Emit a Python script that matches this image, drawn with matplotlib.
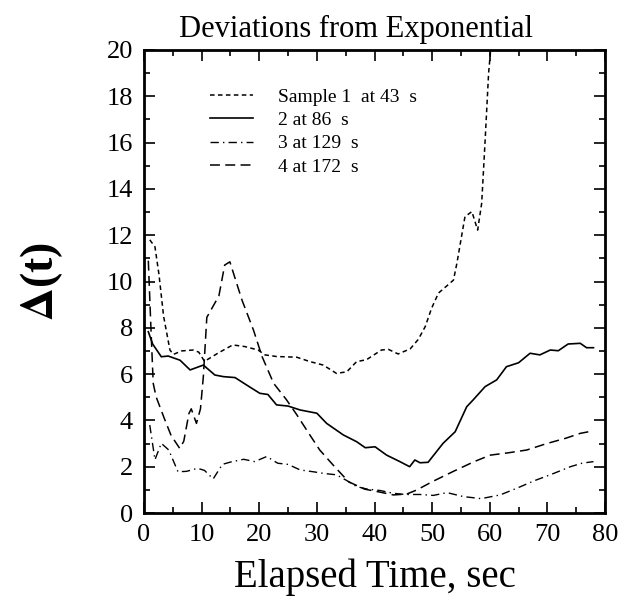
import matplotlib
matplotlib.use('Agg')
import matplotlib.pyplot as plt
from matplotlib.ticker import MultipleLocator

plt.rcParams['font.family'] = ['Liberation Serif', 'DejaVu Serif']
plt.rcParams['mathtext.fontset'] = 'stix'

# Sample 1 at 43 s
x1 = [1.0, 1.9, 2.6, 3.4, 4.5, 5.1, 6.5, 8.5, 9.5, 10.5, 12.8, 15.4, 17.5, 19.8, 21.0,
      23.0, 26.5, 28.8, 31.1, 33.4, 35.2, 36.9, 38.6, 41.2, 42.4, 44.1, 46.2, 47.6, 48.8,
      49.9, 51.1, 52.5, 53.7, 54.3, 55.1, 55.7, 56.9, 57.9, 58.6, 59.2, 59.8, 60.3]
y1 = [11.8, 11.5, 10.3, 8.5, 7.04, 6.85, 7.0, 7.04, 6.95, 6.55, 6.9, 7.26, 7.19, 7.04, 6.83,
      6.76, 6.73, 6.54, 6.39, 6.03, 6.1, 6.54, 6.62, 7.04, 7.07, 6.87, 7.09, 7.5, 8.05,
      8.84, 9.5, 9.8, 10.06, 10.79, 11.94, 12.8, 13.02, 12.22, 13.38, 16.1, 19.0, 20.4]

# 2 at 86 s
x2 = [0.75, 1.5, 3.0, 4.2, 6.25, 8.0, 10.3, 12.3, 13.8, 15.8, 17.8, 20.1, 21.5, 23.0, 25.0,
      27.1, 30.0, 31.7, 34.6, 36.9, 38.4, 40.1, 42.1, 44.4, 46.1, 47.0, 47.9, 49.3, 51.9,
      54.0, 56.0, 57.1, 59.2, 61.2, 62.9, 65.0, 67.0, 68.7, 70.5, 71.9, 73.6, 75.7, 76.8, 78.0]
y2 = [7.83, 7.3, 6.75, 6.78, 6.6, 6.18, 6.39, 5.96, 5.89, 5.85, 5.53, 5.17, 5.12, 4.67, 4.62,
      4.45, 4.31, 3.87, 3.37, 3.08, 2.82, 2.86, 2.5, 2.22, 2.0, 2.29, 2.17, 2.19, 3.01,
      3.51, 4.59, 4.88, 5.46, 5.75, 6.32, 6.49, 6.9, 6.83, 7.04, 7.01, 7.3, 7.33, 7.14, 7.14]

# 3 at 129 s
x3 = [1.0, 1.9, 3.0, 4.3, 5.9, 7.4, 9.3, 10.5, 12.0, 13.6, 15.0, 17.3, 19.2, 21.3, 23.2,
      25.0, 27.1, 29.4, 31.5, 33.4, 35.2, 36.9, 38.6, 41.0, 43.3, 45.3, 47.9, 50.2, 52.6,
      55.4, 58.5, 61.8, 64.7, 67.8, 70.8, 74.0, 76.0, 78.0]
y3 = [3.8, 2.3, 3.01, 2.72, 1.78, 1.8, 1.93, 1.84, 1.47, 2.1, 2.2, 2.32, 2.22, 2.44, 2.15,
      2.1, 1.86, 1.78, 1.7, 1.65, 1.4, 1.14, 1.04, 0.97, 0.85, 0.8, 0.8, 0.76, 0.88,
      0.71, 0.62, 0.78, 1.07, 1.4, 1.68, 2.0, 2.15, 2.22]

# 4 at 172 s
x4 = [0.75, 1.2, 1.6, 2.1, 3.5, 4.7, 6.2, 6.9, 7.8, 8.2, 9.1, 9.8, 10.3, 10.9, 13.0, 14.0,
      14.9, 17.0, 19.0, 20.5, 22.5, 24.7, 26.5, 28.6, 30.5, 32.9, 35.5, 38.3, 40.6, 43.3,
      45.6, 47.3, 50.0, 53.7, 57.3, 60.1, 63.2, 66.4, 69.9, 73.2, 75.7, 78.0]
y4 = [10.9, 8.0, 5.6, 5.02, 4.1, 3.35, 2.79, 3.1, 4.3, 4.5, 3.87, 4.5, 5.9, 8.45, 9.38, 10.71,
      10.85, 9.2, 7.9, 6.75, 5.6, 4.9, 4.25, 3.44, 2.72, 2.05, 1.35, 1.03, 0.92, 0.78,
      0.82, 0.99, 1.35, 1.8, 2.22, 2.5, 2.6, 2.72, 3.0, 3.23, 3.44, 3.55]

labels = ['Sample 1  at 43  s', '2 at 86  s', '3 at 129  s', '4 at 172  s']

fig = plt.figure(figsize=(6.29, 6.05), dpi=100)
ax = fig.add_axes([144/629, 1-513/605, 461/629, 463/605])

ax.plot(x1, y1, color='black', lw=1.1, linestyle=(0, (3, 2.2)), label=labels[0])
ax.plot(x2, y2, color='black', lw=1.2, linestyle='-', label=labels[1])
ax.plot(x3, y3, color='black', lw=1.0, linestyle=(0, (6, 3, 1, 3)), label=labels[2])
ax.plot(x4, y4, color='black', lw=1.1, linestyle=(0, (6.5, 3.5)), label=labels[3])

ax.set_xlim(0, 80)
ax.set_ylim(0, 20)
ax.xaxis.set_major_locator(MultipleLocator(10))
ax.xaxis.set_minor_locator(MultipleLocator(5))
ax.yaxis.set_major_locator(MultipleLocator(2))
ax.yaxis.set_minor_locator(MultipleLocator(1))
ax.tick_params(which='both', direction='in', top=True, right=True, width=1.2)
ax.tick_params(which='major', length=8, labelsize=19, pad=8)
ax.tick_params(which='minor', length=4)
for s in ax.spines.values():
    s.set_linewidth(2)

# title sits a little left of the axes centre in the original
ax.set_title('Deviations from Exponential', fontsize=22, pad=9, x=0.46)
ax.set_xlabel('Elapsed Time, sec', fontsize=28, labelpad=9)
ax.set_ylabel(r'$\mathbf{\Delta}$(t)', fontsize=33, fontweight='bold', labelpad=30)

ax.legend(loc='upper left', bbox_to_anchor=(0.143, 0.918), frameon=False, fontsize=14,
          handlelength=2.2, handletextpad=1.3, labelspacing=0.3, borderpad=0, borderaxespad=0)

fig.savefig('out.png', dpi=100)
